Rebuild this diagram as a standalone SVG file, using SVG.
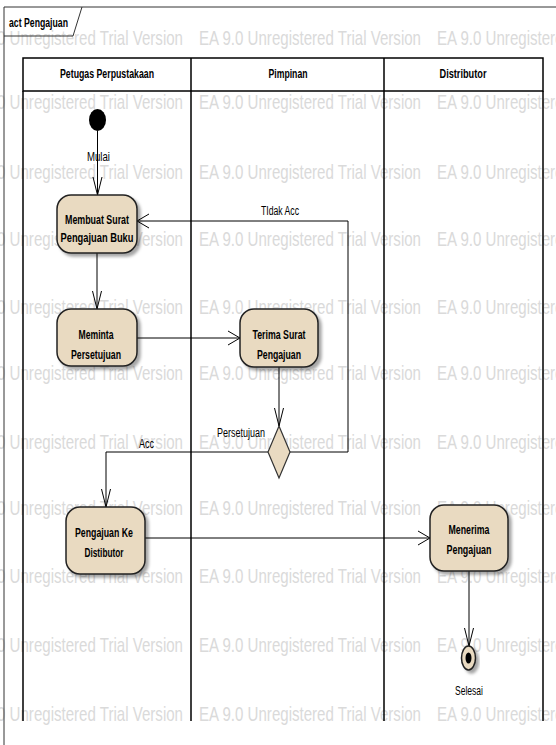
<svg xmlns="http://www.w3.org/2000/svg" width="556" height="745" viewBox="0 0 556 745">
<style>
.wm{font-family:"Liberation Sans",Arial,sans-serif;font-size:21px;fill:#dadada}
.hd{font-family:"Liberation Sans",Arial,sans-serif;font-size:12.5px;font-weight:bold;fill:#000;text-anchor:middle}
.nt{font-family:"Liberation Sans",Arial,sans-serif;font-size:12.5px;font-weight:bold;fill:#000;text-anchor:middle}
.lb{font-family:"Liberation Sans",Arial,sans-serif;font-size:12px;fill:#000}
.act{fill:#E9DAC1;stroke:#222;stroke-width:1.5;filter:url(#sh)}
.ln{fill:none;stroke:#000;stroke-width:1}
.lane{fill:none;stroke:#000;stroke-width:1.5}
</style>
<defs>
<filter id="sh" x="-20%" y="-20%" width="150%" height="150%"><feDropShadow dx="3" dy="3" stdDeviation="1.5" flood-color="#000" flood-opacity="0.35"/></filter>
<marker id="av" viewBox="0 0 18 10" refX="18" refY="5" markerWidth="18" markerHeight="10" orient="auto" markerUnits="userSpaceOnUse" overflow="visible"><path d="M0,0.5 L18,5 L0,9.5" fill="none" stroke="#000" stroke-width="1"/></marker>
<marker id="ah" viewBox="0 0 12 16" refX="12" refY="8" markerWidth="12" markerHeight="16" orient="auto" markerUnits="userSpaceOnUse" overflow="visible"><path d="M0,1 L12,8 L0,15" fill="none" stroke="#000" stroke-width="1"/></marker>
</defs>
<rect width="556" height="745" fill="#fff"/>
<g id="watermark">
<text class="wm" x="-39" y="45" textLength="222" lengthAdjust="spacingAndGlyphs">EA 9.0 Unregistered Trial Version</text><text class="wm" x="199" y="45" textLength="222" lengthAdjust="spacingAndGlyphs">EA 9.0 Unregistered Trial Version</text><text class="wm" x="437" y="45" textLength="222" lengthAdjust="spacingAndGlyphs">EA 9.0 Unregistered Trial Version</text>
<text class="wm" x="-39" y="109" textLength="222" lengthAdjust="spacingAndGlyphs">EA 9.0 Unregistered Trial Version</text><text class="wm" x="199" y="109" textLength="222" lengthAdjust="spacingAndGlyphs">EA 9.0 Unregistered Trial Version</text><text class="wm" x="437" y="109" textLength="222" lengthAdjust="spacingAndGlyphs">EA 9.0 Unregistered Trial Version</text>
<text class="wm" x="-39" y="179" textLength="222" lengthAdjust="spacingAndGlyphs">EA 9.0 Unregistered Trial Version</text><text class="wm" x="199" y="179" textLength="222" lengthAdjust="spacingAndGlyphs">EA 9.0 Unregistered Trial Version</text><text class="wm" x="437" y="179" textLength="222" lengthAdjust="spacingAndGlyphs">EA 9.0 Unregistered Trial Version</text>
<text class="wm" x="-39" y="246" textLength="222" lengthAdjust="spacingAndGlyphs">EA 9.0 Unregistered Trial Version</text><text class="wm" x="199" y="246" textLength="222" lengthAdjust="spacingAndGlyphs">EA 9.0 Unregistered Trial Version</text><text class="wm" x="437" y="246" textLength="222" lengthAdjust="spacingAndGlyphs">EA 9.0 Unregistered Trial Version</text>
<text class="wm" x="-39" y="314" textLength="222" lengthAdjust="spacingAndGlyphs">EA 9.0 Unregistered Trial Version</text><text class="wm" x="199" y="314" textLength="222" lengthAdjust="spacingAndGlyphs">EA 9.0 Unregistered Trial Version</text><text class="wm" x="437" y="314" textLength="222" lengthAdjust="spacingAndGlyphs">EA 9.0 Unregistered Trial Version</text>
<text class="wm" x="-39" y="380" textLength="222" lengthAdjust="spacingAndGlyphs">EA 9.0 Unregistered Trial Version</text><text class="wm" x="199" y="380" textLength="222" lengthAdjust="spacingAndGlyphs">EA 9.0 Unregistered Trial Version</text><text class="wm" x="437" y="380" textLength="222" lengthAdjust="spacingAndGlyphs">EA 9.0 Unregistered Trial Version</text>
<text class="wm" x="-39" y="449" textLength="222" lengthAdjust="spacingAndGlyphs">EA 9.0 Unregistered Trial Version</text><text class="wm" x="199" y="449" textLength="222" lengthAdjust="spacingAndGlyphs">EA 9.0 Unregistered Trial Version</text><text class="wm" x="437" y="449" textLength="222" lengthAdjust="spacingAndGlyphs">EA 9.0 Unregistered Trial Version</text>
<text class="wm" x="-39" y="515" textLength="222" lengthAdjust="spacingAndGlyphs">EA 9.0 Unregistered Trial Version</text><text class="wm" x="199" y="515" textLength="222" lengthAdjust="spacingAndGlyphs">EA 9.0 Unregistered Trial Version</text><text class="wm" x="437" y="515" textLength="222" lengthAdjust="spacingAndGlyphs">EA 9.0 Unregistered Trial Version</text>
<text class="wm" x="-39" y="583" textLength="222" lengthAdjust="spacingAndGlyphs">EA 9.0 Unregistered Trial Version</text><text class="wm" x="199" y="583" textLength="222" lengthAdjust="spacingAndGlyphs">EA 9.0 Unregistered Trial Version</text><text class="wm" x="437" y="583" textLength="222" lengthAdjust="spacingAndGlyphs">EA 9.0 Unregistered Trial Version</text>
<text class="wm" x="-39" y="652" textLength="222" lengthAdjust="spacingAndGlyphs">EA 9.0 Unregistered Trial Version</text><text class="wm" x="199" y="652" textLength="222" lengthAdjust="spacingAndGlyphs">EA 9.0 Unregistered Trial Version</text><text class="wm" x="437" y="652" textLength="222" lengthAdjust="spacingAndGlyphs">EA 9.0 Unregistered Trial Version</text>
<text class="wm" x="-39" y="721" textLength="222" lengthAdjust="spacingAndGlyphs">EA 9.0 Unregistered Trial Version</text><text class="wm" x="199" y="721" textLength="222" lengthAdjust="spacingAndGlyphs">EA 9.0 Unregistered Trial Version</text><text class="wm" x="437" y="721" textLength="222" lengthAdjust="spacingAndGlyphs">EA 9.0 Unregistered Trial Version</text>
</g>
<g id="frame">
<path d="M4,745 V7 H556" fill="none" stroke="#333" stroke-width="1"/>
<path d="M4,36 H73 L82,7" fill="none" stroke="#333" stroke-width="1"/>
<text class="hd" x="9" y="27" style="text-anchor:start" textLength="59" lengthAdjust="spacingAndGlyphs">act Pengajuan</text>
</g>
<g id="lanes">
<rect class="lane" x="23" y="58" width="520" height="33"/>
<path class="lane" d="M23,91 V721 M191,58 V721 M384,58 V721 M543,91 V721"/>
<text class="hd" x="107" y="78" textLength="94" lengthAdjust="spacingAndGlyphs">Petugas Perpustakaan</text>
<text class="hd" x="288" y="78" textLength="39" lengthAdjust="spacingAndGlyphs">Pimpinan</text>
<text class="hd" x="463" y="78" textLength="47" lengthAdjust="spacingAndGlyphs">Distributor</text>
</g>
<g id="connectors">
<path class="ln" d="M97.5,131 V195" marker-end="url(#av)"/>
<text class="lb" x="87" y="161" textLength="23" lengthAdjust="spacingAndGlyphs">Mulai</text>
<path class="ln" d="M97,253 V309" marker-end="url(#av)"/>
<path class="ln" d="M137,338 H240" marker-end="url(#ah)"/>
<path class="ln" d="M279,367 V426" marker-end="url(#av)"/>
<path class="ln" d="M290,452 H348 V221 H137" marker-end="url(#ah)"/>
<text class="lb" x="261" y="215" textLength="38" lengthAdjust="spacingAndGlyphs">TIdak Acc</text>
<path class="ln" d="M268,452 H106 V507" marker-end="url(#av)"/>
<text class="lb" x="139" y="448" textLength="15" lengthAdjust="spacingAndGlyphs">Acc</text>
<path class="ln" d="M145,538 H430" marker-end="url(#ah)"/>
<path class="ln" d="M469,571 V646" marker-end="url(#av)"/>
</g>
<g id="start">
<ellipse cx="97.5" cy="120" rx="8.5" ry="11" fill="#000"/>
</g>
<g id="membuat">
<rect class="act" x="57" y="195" width="80" height="58" rx="14"/>
<text class="nt" x="97" y="224" textLength="64" lengthAdjust="spacingAndGlyphs">Membuat Surat</text>
<text class="nt" x="97" y="242" textLength="73" lengthAdjust="spacingAndGlyphs">Pengajuan Buku</text>
</g>
<g id="meminta">
<rect class="act" x="57" y="309" width="80" height="57" rx="14"/>
<text class="nt" x="96" y="339" textLength="35" lengthAdjust="spacingAndGlyphs">Meminta</text>
<text class="nt" x="96" y="359" textLength="50" lengthAdjust="spacingAndGlyphs">Persetujuan</text>
</g>
<g id="terima">
<rect class="act" x="240" y="309" width="78" height="58" rx="14"/>
<text class="nt" x="279" y="339" textLength="53" lengthAdjust="spacingAndGlyphs">Terima Surat</text>
<text class="nt" x="279" y="359" textLength="44" lengthAdjust="spacingAndGlyphs">Pengajuan</text>
</g>
<g id="decision">
<polygon points="279,426 290,452 279,478 268,452" fill="#E9DAC1" stroke="#333" stroke-width="1.2"/>
<text class="lb" x="217" y="437" textLength="48" lengthAdjust="spacingAndGlyphs">Persetujuan</text>
</g>
<g id="pengajuan-ke">
<rect class="act" x="66" y="507" width="79" height="67" rx="14"/>
<text class="nt" x="104" y="537" textLength="58" lengthAdjust="spacingAndGlyphs">Pengajuan Ke</text>
<text class="nt" x="104" y="557" textLength="39" lengthAdjust="spacingAndGlyphs">Distibutor</text>
</g>
<g id="menerima">
<rect class="act" x="430" y="505" width="78" height="66" rx="14"/>
<text class="nt" x="469" y="534" textLength="41" lengthAdjust="spacingAndGlyphs">Menerima</text>
<text class="nt" x="469" y="554" textLength="45" lengthAdjust="spacingAndGlyphs">Pengajuan</text>
</g>
<g id="end">
<ellipse cx="468.5" cy="658" rx="7" ry="12" fill="#E9DAC1" stroke="#222" stroke-width="1.5" filter="url(#sh)"/>
<ellipse cx="468.5" cy="658" rx="3" ry="5.5" fill="#000"/>
<text class="lb" x="469" y="695" style="text-anchor:middle" textLength="28" lengthAdjust="spacingAndGlyphs">Selesai</text>
</g>
</svg>
